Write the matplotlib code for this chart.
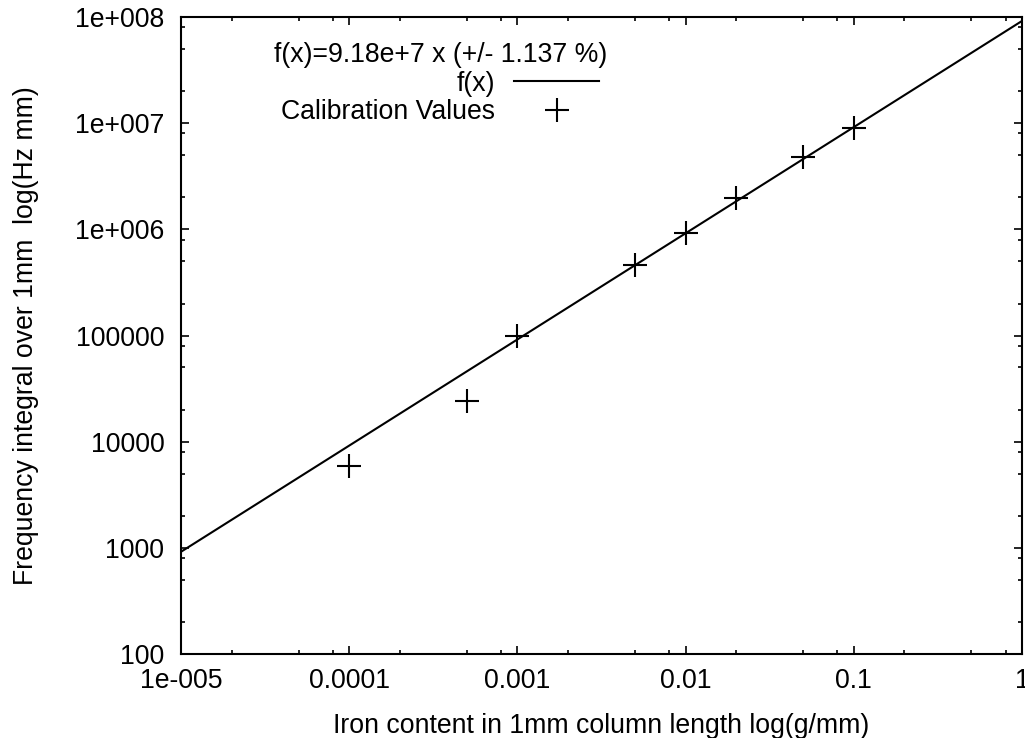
import numpy as np
import matplotlib
matplotlib.use('Agg')
import matplotlib.pyplot as plt
from matplotlib.ticker import FixedLocator, FixedFormatter, LogLocator, NullFormatter

iron = [1e-4, 5e-4, 1e-3, 5e-3, 1e-2, 2e-2, 5e-2, 1e-1]
freq = [5900, 24100, 99000, 460000, 920000, 1.97e6, 4.79e6, 8.97e6]

slope = 9.18e7
fit_x = [1e-5, 1.0]

xticks = [1e-5, 1e-4, 1e-3, 1e-2, 1e-1, 1.0]
xlabels = ['1e-005', '0.0001', '0.001', '0.01', '0.1', '1']
yticks = [1e2, 1e3, 1e4, 1e5, 1e6, 1e7, 1e8]
ylabels = ['100', '1000', '10000', '100000', '1e+006', '1e+007', '1e+008']

plt.rcParams['font.family'] = ['Liberation Sans', 'DejaVu Sans']
fs = 19.2

fig = plt.figure(figsize=(10.25, 7.38), dpi=100)
ax = fig.add_axes([181/1025, 1 - 654/738, (1022-181)/1025, (654-17)/738])

ax.plot(fit_x, [slope*x for x in fit_x], color='black', lw=1.5, label='f(x)')
ax.plot(iron, freq, ls='none', marker='+', ms=17, mew=1.5, color='black',
        label='Calibration Values')

ax.set_xscale('log')
ax.set_yscale('log')
ax.set_xlim(1e-5, 1)
ax.set_ylim(100, 1e8)

ax.xaxis.set_major_locator(FixedLocator(xticks))
ax.xaxis.set_major_formatter(FixedFormatter(xlabels))
ax.yaxis.set_major_locator(FixedLocator(yticks))
ax.yaxis.set_major_formatter(FixedFormatter(ylabels))
ax.xaxis.set_minor_locator(LogLocator(base=10, subs=[2, 5, 8], numticks=20))
ax.yaxis.set_minor_locator(LogLocator(base=10, subs=[2, 5, 8], numticks=20))
ax.xaxis.set_minor_formatter(NullFormatter())
ax.yaxis.set_minor_formatter(NullFormatter())

ax.tick_params(which='both', direction='in', top=True, right=True, width=1.2,
               labelsize=fs, color='black')
ax.tick_params(which='major', length=6)
ax.tick_params(which='minor', length=3)
ax.tick_params(axis='x', pad=10)
ax.tick_params(axis='y', pad=12)
for s in ax.spines.values():
    s.set_linewidth(1.5)

ax.set_xlabel('Iron content in 1mm column length log(g/mm)', fontsize=fs, labelpad=14)
ax.set_ylabel('Frequency integral over 1mm  log(Hz mm)', fontsize=fs, labelpad=26)

leg = ax.legend(loc='upper left', bbox_to_anchor=(0.088, 0.99), frameon=False,
                markerfirst=False, fontsize=fs, title='f(x)=9.18e+7 x (+/- 1.137 %)',
                title_fontsize=fs, handlelength=3.2, handletextpad=0.7,
                labelspacing=0.1, borderpad=0.2)

fig.savefig('out.png', dpi=100)
